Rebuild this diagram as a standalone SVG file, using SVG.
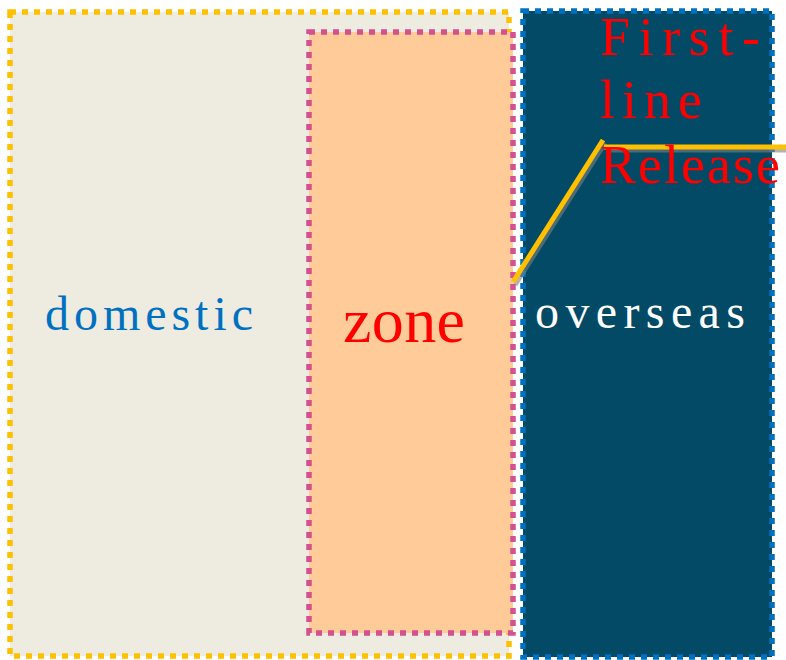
<svg xmlns="http://www.w3.org/2000/svg" width="786" height="660" viewBox="0 0 786 660">
<style>
.box{stroke-width:5.5;stroke-dasharray:6 6}
.t{font-family:"Liberation Serif","DejaVu Serif",serif}
.conn{fill:none;stroke:#FFC000;stroke-width:5}
.shadow{fill:none;stroke:#808080;stroke-width:5;opacity:.6}
</style>
<rect width="786" height="660" fill="#ffffff"/>
<g id="domestic">
<rect class="box" x="10" y="12" width="499" height="644" fill="#EEEBE0" stroke="#FFC000"/>
<text class="t" x="45" y="330" font-size="48" fill="#0070C0" textLength="208" lengthAdjust="spacing">domestic</text>
</g>
<g id="zone">
<rect class="box" x="309" y="32" width="204" height="601" fill="#FFCB98" stroke="#D5508E"/>
<text class="t" x="343" y="342" font-size="64" fill="#FF0000" textLength="122" lengthAdjust="spacing">zone</text>
</g>
<g id="overseas">
<rect class="box" x="523" y="11" width="249" height="646" fill="#024A65" stroke="#0070C0"/>
<text class="t" x="535" y="328" font-size="48" fill="#FFFFFF" textLength="210" lengthAdjust="spacing">overseas</text>
</g>
<g id="connectors">
<path class="shadow" d="M515,285 L605,143 M607,150 L786,150"/>
<path class="conn" d="M513,282 L603,140 M604,147 L786,147"/>
</g>
<g id="label">
<text class="t" font-size="54" fill="#FF0000">
<tspan x="600" y="55" textLength="160" lengthAdjust="spacing">First-</tspan>
<tspan x="600" y="118" textLength="102" lengthAdjust="spacing">line</tspan>
<tspan x="600" y="183" textLength="180" lengthAdjust="spacing">Release</tspan>
</text>
</g>
</svg>
